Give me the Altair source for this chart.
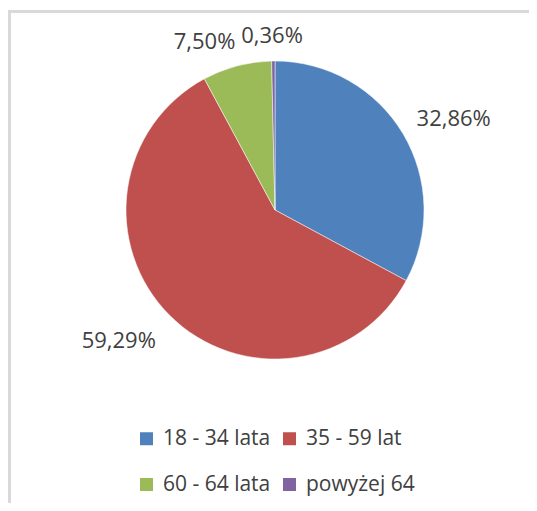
import altair as alt
import pandas as pd

categories = ["18 - 34 lata", "35 - 59 lat", "60 - 64 lata", "powyżej 64"]
values = [32.86, 59.29, 7.50, 0.36]
colors = ["#4F81BD", "#C0504D", "#9BBB59", "#8064A2"]
labels = [f"{v:.2f}".replace(".", ",") + "%" for v in values]

df = pd.DataFrame({"kat": categories, "val": values, "label": labels, "ord": list(range(len(values)))})
total = sum(values)

W, H = 521, 495
CX, CY, R = 267, 202, 149
FONT = "Open Sans"
TXT = "#404040"

theta_scale = alt.Scale(domain=[0, total])

pie = alt.Chart(df).mark_arc(outerRadius=R, stroke="#ffffff", strokeWidth=0.5).encode(
    theta=alt.Theta("val:Q", stack=True, scale=theta_scale),
    order=alt.Order("ord:Q"),
    x=alt.value(CX),
    y=alt.value(CY),
    color=alt.Color(
        "kat:N",
        scale=alt.Scale(domain=categories, range=colors),
        sort=categories,
        legend=alt.Legend(
            title=None,
            orient="none",
            legendX=128,
            legendY=420,
            columns=2,
            direction="horizontal",
            symbolType="square",
            symbolSize=169,
            symbolStrokeWidth=0,
            labelFont=FONT,
            labelFontSize=21,
            labelColor=TXT,
            labelOffset=6,
            labelLimit=400,
            rowPadding=24,
            columnPadding=8,
            padding=0,
        ),
    ),
)

# label placement (radius, dx, dy) per slice, in category order
placement = [(200, 7, 12), (204, -12, -13), (182, -24, 8), (174, -1, 0)]

label_layers = []
for cat, (rad, ddx, ddy) in zip(categories, placement):
    lay = (
        alt.Chart(df)
        .transform_window(cum="sum(val)", sort=[alt.SortField("ord")], frame=[None, 0])
        .transform_calculate(mid="datum.cum - datum.val / 2")
        .transform_filter(alt.datum.kat == cat)
        .mark_text(radius=rad, dx=ddx, dy=ddy, font=FONT, fontSize=22, color=TXT,
                   align="center", baseline="middle")
        .encode(
            theta=alt.Theta("mid:Q", stack=False, scale=theta_scale),
            x=alt.value(CX),
            y=alt.value(CY),
            text="label:N",
        )
    )
    label_layers.append(lay)

dummy = pd.DataFrame({"a": [0]})
border_v = alt.Chart(dummy).mark_rule(color="#d9d9d9", strokeWidth=3).encode(
    x=alt.value(1.5), y=alt.value(2), y2=alt.value(H)
)
border_h = alt.Chart(dummy).mark_rule(color="#d9d9d9", strokeWidth=3).encode(
    x=alt.value(0), x2=alt.value(W), y=alt.value(3.5)
)

chart = (
    alt.layer(border_v, border_h, pie, *label_layers)
    .properties(width=W, height=H, autosize=alt.AutoSizeParams(type="none"), padding=0,
                background="#ffffff")
    .configure_view(stroke=None)
)

chart.save("out.html", embed_options={"renderer": "svg", "actions": False})
